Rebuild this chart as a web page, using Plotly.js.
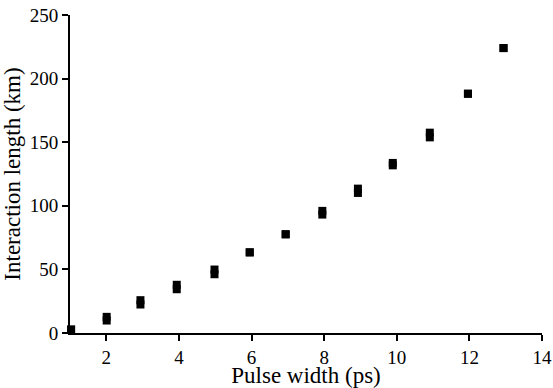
<!DOCTYPE html>
<html>
<head>
<meta charset="utf-8">
<script src="https://cdn.plot.ly/plotly-3.0.1.min.js"></script>
<style>
html,body{margin:0;padding:0;background:#fff}
#chart{width:553px;height:388px}
#chart svg text, .js-plotly-plot .plotly svg text { font-family: "Liberation Serif", "Times New Roman", "DejaVu Serif", serif !important; }
</style>
</head>
<body>
<div id="chart"></div>
<script>
// Pulse width (ps)
const pulseWidth = [1.03, 2.01, 2.94, 3.94, 4.98, 5.95, 6.94, 7.95, 8.93, 9.89, 10.91, 11.96, 12.94];
// Interaction length (km), upper and lower readings of each measurement
const lengthUpper = [2.7, 12.7, 25.8, 37.9, 49.9, 63.4, 77.6, 96.0, 113.5, 133.7, 157.5, 188.1, 224.0];
const lengthLower = [2.7, 9.8, 22.4, 34.4, 46.2, 63.4, 77.6, 93.1, 110.1, 131.8, 153.8, 188.1, 224.0];
const xTicks = [2, 4, 6, 8, 10, 12, 14];
const yTicks = [0, 50, 100, 150, 200, 250];

const FONT = 'Liberation Serif';
const mk = {symbol: 'square', size: 8, color: '#000', line: {width: 0}};

const traces = [
  {x: pulseWidth, y: lengthUpper, type: 'scatter', mode: 'markers', marker: mk, cliponaxis: false, showlegend: false},
  {x: pulseWidth, y: lengthLower, type: 'scatter', mode: 'markers', marker: mk, cliponaxis: false, showlegend: false}
];

const layout = {
  width: 553, height: 388,
  margin: {l: 70.4, r: 10.7, t: 15, b: 54.5},
  paper_bgcolor: '#fff', plot_bgcolor: '#fff',
  font: {family: FONT, size: 19, color: '#000'},
  xaxis: {
    range: [1, 14], tickvals: xTicks, ticktext: xTicks.map(String),
    showgrid: false, zeroline: false, showline: true, linecolor: '#000', linewidth: 2,
    ticks: 'outside', ticklen: 6, tickwidth: 2, tickcolor: '#000',
    title: {text: 'Pulse width (ps)'}
  },
  yaxis: {
    range: [0, 250], tickvals: yTicks, ticktext: yTicks.map(String),
    showgrid: false, zeroline: false, showline: true, linecolor: '#000', linewidth: 2,
    ticks: 'outside', ticklen: 6, tickwidth: 2, tickcolor: '#000',
    title: {text: 'Interaction length (km)'}
  }
};

Plotly.newPlot('chart', traces, layout, {displayModeBar: false, staticPlot: true});
</script>
</body>
</html>
